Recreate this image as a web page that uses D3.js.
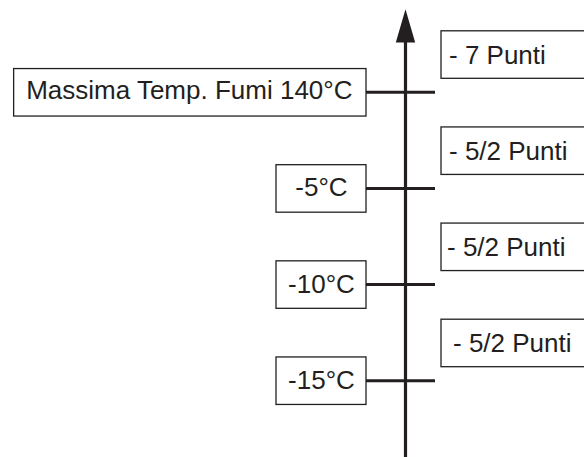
<!DOCTYPE html>
<html>
<head>
<meta charset="utf-8">
<script src="https://cdn.jsdelivr.net/npm/d3@7"></script>
<style>
  html, body { margin: 0; padding: 0; background: #fff; }
  svg { display: block; }
  text { font-family: "Liberation Sans", Arial, Helvetica, sans-serif; font-size: 26px; fill: #231f20; }
</style>
</head>
<body>
<svg id="chart" width="584" height="457"></svg>
<script>
// Threshold labels (left) and penalty labels (right), top to bottom
const levels = ["Massima Temp. Fumi 140°C", "-5°C", "-10°C", "-15°C"];
const penalties = ["- 7 Punti", "- 5/2 Punti", "- 5/2 Punti", "- 5/2 Punti"];

const W = 584, H = 457;
const ink = "#231f20";
const axisX = 405.5;
const svg = d3.select("#chart");

const y = d3.scalePoint().domain(levels).range([92.3, 380.7]);

// vertical axis with arrow
svg.append("line")
  .attr("x1", axisX).attr("x2", axisX)
  .attr("y1", 40).attr("y2", H + 2)
  .attr("stroke", ink).attr("stroke-width", 3.2);
svg.append("path")
  .attr("d", d3.line()([[axisX, 9.3], [axisX + 9.7, 42.5], [axisX - 9.7, 42.5]]) + "Z")
  .attr("fill", ink);

// tick marks
svg.selectAll("line.tick").data(levels).join("line")
  .attr("class", "tick")
  .attr("x1", 366).attr("x2", 435)
  .attr("y1", d => y(d)).attr("y2", d => y(d))
  .attr("stroke", ink).attr("stroke-width", 3);

// left boxes
const boxH = 47.5;
const left = svg.selectAll("g.left").data(levels).join("g").attr("class", "left");
left.each(function(d, i) {
  const g = d3.select(this);
  const rect = g.append("rect");
  const t = g.append("text").text(d).attr("text-anchor", "middle");
  const tw = t.node().getComputedTextLength();
  const bw = tw > 100 ? tw + 26 : 90;
  const x0 = 366 - bw;
  rect.attr("x", x0).attr("y", y(d) - boxH / 2)
    .attr("width", bw).attr("height", boxH)
    .attr("fill", "#fff").attr("stroke", ink).attr("stroke-width", 1.3);
  t.attr("x", x0 + bw / 2 + (i === 0 ? -0.5 : 0.5)).attr("y", y(d) + (i === 0 ? 7 : 8));
});

// right boxes
const textPad = [8, 8, 6, 12];
const right = svg.selectAll("g.right").data(penalties).join("g").attr("class", "right");
right.append("rect")
  .attr("x", 441).attr("y", (d, i) => y(levels[i]) - 61.5)
  .attr("width", 160).attr("height", boxH)
  .attr("fill", "#fff").attr("stroke", ink).attr("stroke-width", 1.3);
right.append("text")
  .attr("x", (d, i) => 441 + textPad[i])
  .attr("y", (d, i) => y(levels[i]) - 61.5 + boxH / 2 + 9)
  .text(d => d);
</script>
</body>
</html>
